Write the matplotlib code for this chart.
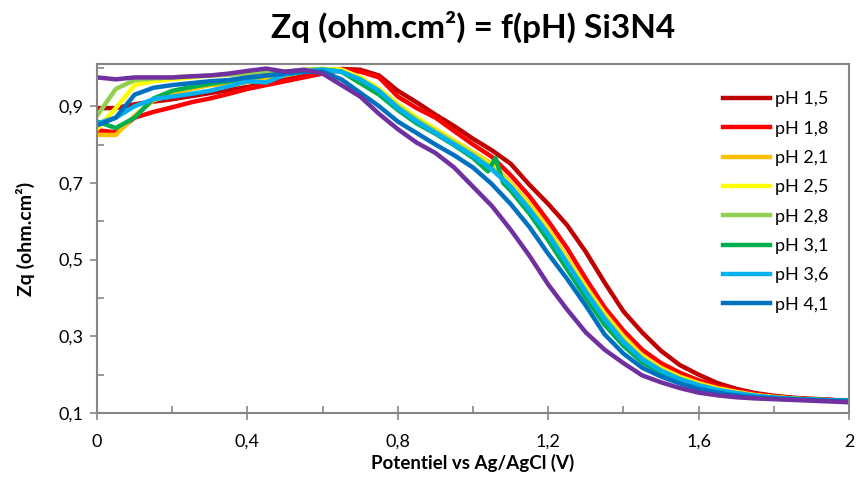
import numpy as np
import matplotlib.pyplot as plt
from matplotlib.ticker import MultipleLocator, FuncFormatter

plt.rcParams['font.family'] = ['Lato', 'DejaVu Sans']

# potential grid (V)
potential = np.arange(0, 2.001, 0.05)

ph_15 = [0.895, 0.895, 0.905, 0.912, 0.918, 0.926, 0.934, 0.942, 0.950, 0.960, 0.970,
         0.980, 0.990, 0.997, 0.995, 0.980, 0.940, 0.910, 0.878, 0.848, 0.815, 0.785,
         0.750, 0.695, 0.645, 0.590, 0.520, 0.440, 0.365, 0.310, 0.262, 0.225, 0.200,
         0.178, 0.163, 0.152, 0.145, 0.140, 0.137, 0.135, 0.130]
ph_18 = [0.837, 0.832, 0.870, 0.885, 0.897, 0.910, 0.920, 0.932, 0.945, 0.955, 0.965,
         0.975, 0.985, 0.995, 0.990, 0.975, 0.925, 0.895, 0.870, 0.835, 0.800, 0.768,
         0.720, 0.665, 0.600, 0.530, 0.450, 0.375, 0.315, 0.265, 0.230, 0.205, 0.185,
         0.170, 0.158, 0.150, 0.143, 0.138, 0.135, 0.133, 0.130]
ph_21 = [0.825, 0.825, 0.875, 0.915, 0.930, 0.945, 0.955, 0.958, 0.962, 0.970, 0.980,
         0.990, 0.995, 0.995, 0.975, 0.945, 0.905, 0.870, 0.840, 0.810, 0.780, 0.750,
         0.700, 0.645, 0.580, 0.505, 0.430, 0.360, 0.300, 0.250, 0.218, 0.195, 0.178,
         0.165, 0.155, 0.147, 0.142, 0.138, 0.135, 0.133, 0.130]
ph_25 = [0.840, 0.895, 0.955, 0.965, 0.970, 0.975, 0.980, 0.982, 0.985, 0.988, 0.990,
         0.993, 0.997, 0.995, 0.975, 0.945, 0.905, 0.870, 0.840, 0.808, 0.778, 0.745,
         0.695, 0.640, 0.575, 0.500, 0.425, 0.355, 0.295, 0.247, 0.215, 0.193, 0.176,
         0.163, 0.154, 0.146, 0.141, 0.137, 0.135, 0.133, 0.131]
ph_28 = [0.875, 0.945, 0.968, 0.972, 0.975, 0.977, 0.980, 0.982, 0.985, 0.988, 0.990,
         0.995, 0.997, 0.990, 0.970, 0.940, 0.900, 0.865, 0.835, 0.805, 0.775, 0.740,
         0.692, 0.635, 0.570, 0.495, 0.420, 0.350, 0.290, 0.243, 0.212, 0.190, 0.174,
         0.161, 0.152, 0.145, 0.140, 0.137, 0.135, 0.133, 0.132]
# pH 3,1 has a glitch near 1.06 V
ph_31_x = [0, 0.05, 0.1, 0.15, 0.2, 0.25, 0.3, 0.35, 0.4, 0.45, 0.5, 0.55, 0.6, 0.65,
           0.7, 0.75, 0.8, 0.85, 0.9, 0.95, 1.0, 1.04, 1.06, 1.08, 1.1, 1.15, 1.2, 1.25,
           1.3, 1.35, 1.4, 1.45, 1.5, 1.55, 1.6, 1.65, 1.7, 1.75, 1.8, 1.85, 1.9, 1.95, 2.0]
ph_31 = [0.860, 0.843, 0.870, 0.920, 0.940, 0.950, 0.958, 0.965, 0.972, 0.980, 0.985,
         0.990, 0.995, 0.990, 0.960, 0.930, 0.890, 0.855, 0.828, 0.798, 0.765, 0.730,
         0.765, 0.700, 0.680, 0.620, 0.550, 0.475, 0.400, 0.330, 0.275, 0.232, 0.205,
         0.185, 0.170, 0.158, 0.150, 0.144, 0.140, 0.137, 0.135, 0.133, 0.132]
ph_36 = [0.855, 0.870, 0.900, 0.918, 0.925, 0.932, 0.940, 0.952, 0.965, 0.962, 0.982,
         0.990, 0.995, 0.990, 0.970, 0.940, 0.895, 0.860, 0.830, 0.800, 0.770, 0.735,
         0.690, 0.630, 0.565, 0.490, 0.415, 0.345, 0.285, 0.240, 0.210, 0.188, 0.172,
         0.160, 0.152, 0.145, 0.140, 0.137, 0.135, 0.133, 0.132]
ph_41 = [0.850, 0.870, 0.930, 0.948, 0.955, 0.960, 0.965, 0.968, 0.975, 0.980, 0.985,
         0.990, 0.990, 0.970, 0.935, 0.900, 0.860, 0.830, 0.800, 0.772, 0.740, 0.697,
         0.645, 0.585, 0.515, 0.450, 0.380, 0.305, 0.255, 0.218, 0.195, 0.177, 0.163,
         0.153, 0.146, 0.141, 0.138, 0.136, 0.134, 0.132, 0.132]
# extra series, not in the legend
ph_x = [0.975, 0.970, 0.975, 0.975, 0.975, 0.978, 0.980, 0.985, 0.992, 0.998, 0.990,
        0.995, 0.985, 0.955, 0.925, 0.880, 0.840, 0.805, 0.778, 0.740, 0.690, 0.640,
        0.578, 0.510, 0.435, 0.370, 0.310, 0.265, 0.230, 0.198, 0.180, 0.165, 0.153,
        0.146, 0.141, 0.138, 0.136, 0.134, 0.132, 0.130, 0.128]

labels = ['pH 1,5', 'pH 1,8', 'pH 2,1', 'pH 2,5', 'pH 2,8', 'pH 3,1', 'pH 3,6', 'pH 4,1']
colors = ['#C00000', '#FF0000', '#FFC000', '#FFFF00', '#92D050', '#00B050',
          '#00B0F0', '#0070C0']
series = [ph_15, ph_18, ph_21, ph_25, ph_28, ph_31, ph_36, ph_41]

fig = plt.figure(figsize=(8.57, 4.84), dpi=100)
ax = fig.add_axes([0.1132, 0.1467, 0.8775, 0.7211])

lw = 3.2
for lab, col, ys in zip(labels, colors, series):
    xs = ph_31_x if lab == 'pH 3,1' else potential
    ax.plot(xs, ys, color=col, lw=lw, label=lab, solid_joinstyle='round')
ax.plot(potential, ph_x, color='#7030A0', lw=lw, solid_joinstyle='round')

ax.set_xlim(0, 2)
ax.set_ylim(0.1, 1.01)

comma = FuncFormatter(lambda v, p: ('%g' % round(v, 2)).replace('.', ','))
ax.xaxis.set_major_locator(MultipleLocator(0.4))
ax.xaxis.set_minor_locator(MultipleLocator(0.2))
ax.xaxis.set_major_formatter(comma)
ax.set_yticks([0.1, 0.3, 0.5, 0.7, 0.9])
ax.set_yticks([0.2, 0.4, 0.6, 0.8, 1.0], minor=True)
ax.yaxis.set_major_formatter(comma)

gray = '#868686'
for s in ax.spines.values():
    s.set_color(gray)
    s.set_linewidth(1.5)
ax.tick_params(axis='x', which='major', direction='inout', length=10, width=1.2,
               color=gray, labelsize=13, pad=10)
ax.tick_params(axis='x', which='minor', direction='in', length=5, width=1.2, color=gray)
ax.tick_params(axis='y', which='major', direction='out', length=5, width=1.2,
               color=gray, labelsize=13, pad=5)
ax.tick_params(axis='y', which='minor', direction='in', length=5, width=1.2, color=gray)

ax.set_title('Zq (ohm.cm²) = f(pH) Si3N4', fontsize=24, fontweight='bold', pad=19)
ax.set_xlabel('Potentiel vs Ag/AgCl (V)', fontsize=13.5, fontweight='bold', labelpad=3)
ax.set_ylabel('Zq (ohm.cm²)', fontsize=14, fontweight='bold', labelpad=17)

fig.legend(loc='upper left', bbox_to_anchor=(0.825, 0.845), frameon=False,
           fontsize=13, handlelength=2.6, handletextpad=0.25, labelspacing=0.74)

fig.savefig('out.png', dpi=100)
